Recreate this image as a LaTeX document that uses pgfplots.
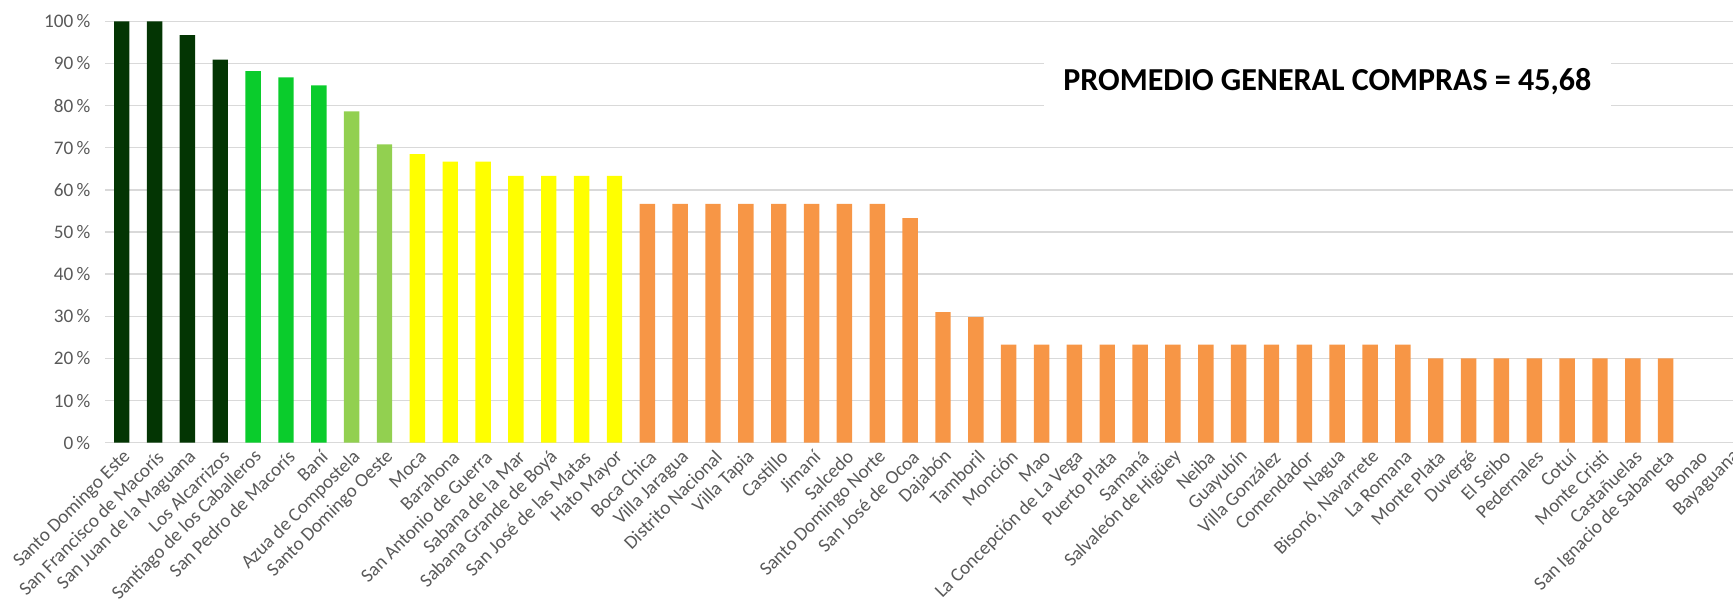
\documentclass[border=0pt]{standalone}
\usepackage{fontspec}
\setmainfont{Carlito}
\usepackage{pgfplots}
\pgfplotsset{compat=1.18}

\definecolor{dkgreen}{HTML}{033503}
\definecolor{midgreen}{HTML}{0ACC2C}
\definecolor{ltgreen}{HTML}{92D050}
\definecolor{yel}{HTML}{FFFF00}
\definecolor{orng}{HTML}{F79646}
\definecolor{gridc}{HTML}{D9D9D9}
\definecolor{labc}{HTML}{595959}

\begin{document}
\begin{tikzpicture}
\begin{axis}[
    at={(0,0)}, anchor=south west,
    scale only axis,
    width=813.85pt, height=210.7pt,
    xmin=-0.5, xmax=49.05,
    ymin=0, ymax=100,
    ytick={0,10,...,100},
    yticklabel={\pgfmathprintnumber{\tick}\,\%},
    xtick={0,...,49},
    xticklabels={Santo Domingo Este, San Francisco de Macorís, San Juan de la Maguana,
        Los Alcarrizos, Santiago de los Caballeros, San Pedro de Macorís, Baní,
        Azua de Compostela, Santo Domingo Oeste, Moca, Barahona, San Antonio de Guerra,
        Sabana de la Mar, Sabana Grande de Boyá, San José de las Matas, Hato Mayor,
        Boca Chica, Villa Jaragua, Distrito Nacional, Villa Tapia, Castillo, Jimaní,
        Salcedo, Santo Domingo Norte, San José de Ocoa, Dajabón, Tamboril, Monción, Mao,
        La Concepción de La Vega, Puerto Plata, Samaná, Salvaleón de Higüey, Neiba,
        Guayubín, Villa González, Comendador, Nagua, {Bisonó, Navarrete}, La Romana,
        Monte Plata, Duvergé, El Seibo, Pedernales, Cotuí, Monte Cristi, Castañuelas,
        San Ignacio de Sabaneta, Bonao, Bayaguana},
    /pgf/number format/assume math mode=true,
    ticklabel style={font=\fontsize{9.6}{11}\selectfont, text=labc},
    xticklabel style={rotate=45, anchor=east, inner sep=1pt, yshift=-6pt, xshift=-0.8pt},
    yticklabel style={xshift=-4pt},
    major tick length=0pt,
    axis line style={draw=none},
    ymajorgrids,
    grid style={gridc, line width=0.75pt},
    ybar, bar width=0.47, bar shift=0pt,
    clip=false,
]
\addplot[fill=dkgreen, draw=none] coordinates {(0,100) (1,100) (2,96.7) (3,90.9)};
\addplot[fill=midgreen, draw=none] coordinates {(4,88.2) (5,86.7) (6,84.8)};
\addplot[fill=ltgreen, draw=none] coordinates {(7,78.6) (8,70.8)};
\addplot[fill=yel, draw=none] coordinates {(9,68.5) (10,66.7) (11,66.7) (12,63.3) (13,63.3) (14,63.3) (15,63.3)};
\addplot[fill=orng, draw=none] coordinates {
    (16,56.7) (17,56.7) (18,56.7) (19,56.7) (20,56.7) (21,56.7) (22,56.7) (23,56.7)
    (24,53.3) (25,31.0) (26,29.8)
    (27,23.3) (28,23.3) (29,23.3) (30,23.3) (31,23.3) (32,23.3) (33,23.3) (34,23.3)
    (35,23.3) (36,23.3) (37,23.3) (38,23.3) (39,23.3)
    (40,20) (41,20) (42,20) (43,20) (44,20) (45,20) (46,20) (47,20)};
\node[fill=white, minimum width=283.5pt, minimum height=40pt, inner sep=0pt,
      font=\fontsize{16}{19}\selectfont\bfseries] at (axis cs:36.7,85.8)
      {PROMEDIO GENERAL COMPRAS = 45,68};
\end{axis}
\pgfresetboundingbox
\useasboundingbox (-52.65pt,-80.65pt) rectangle (813.85pt,221.35pt);
\end{tikzpicture}
\end{document}
